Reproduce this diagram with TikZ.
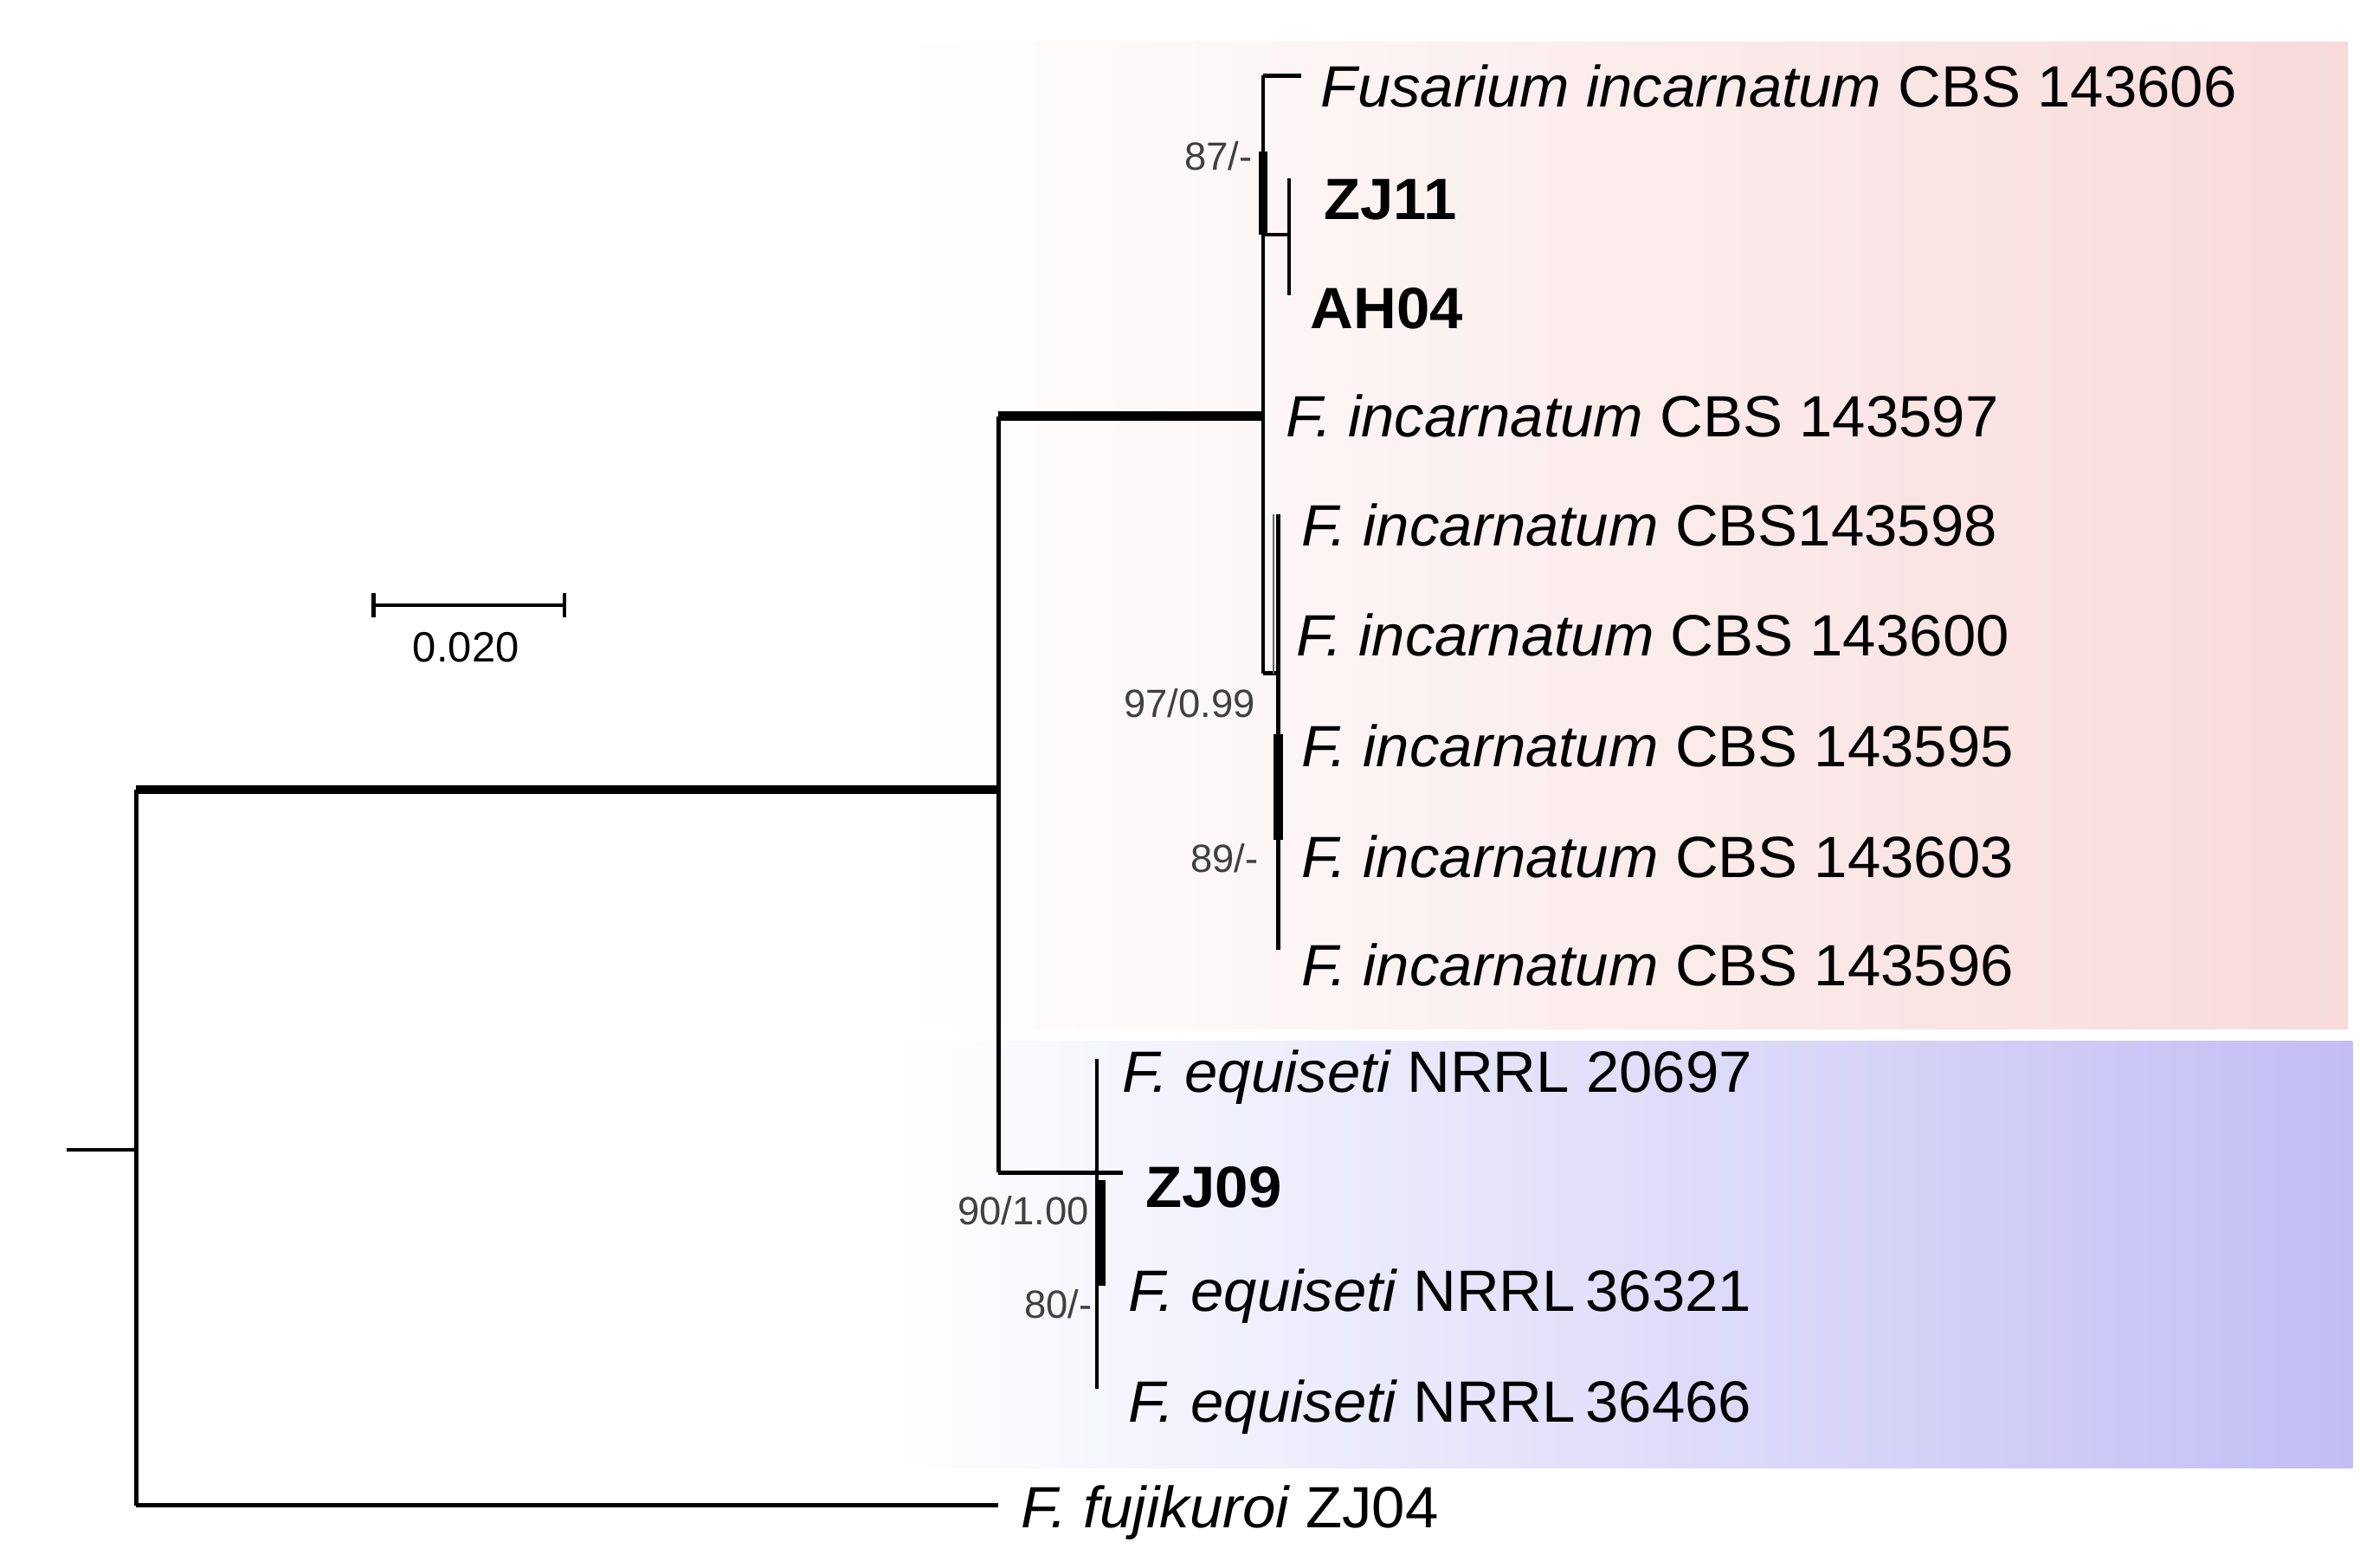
\documentclass[tikz,border=0pt]{standalone}
\usepackage{fontspec}
\setmainfont{Liberation Sans}
\definecolor{pk}{HTML}{F8DADA}
\definecolor{bl}{HTML}{C2BEF4}
\begin{document}
\begin{tikzpicture}[x=1pt,y=-1pt,
  lf/.style={anchor=west,inner sep=0pt,font=\fontsize{38.5}{42}\selectfont,xscale=1.025},
  sup/.style={anchor=east,inner sep=0pt,font=\fontsize{26}{29}\selectfont,text=black!75},
  br/.style={line width=2.6pt},
  thick br/.style={line width=6pt}]
\useasboundingbox (0,0) rectangle (1560,1036);
\shade[left color=white,right color=pk] (595,28) rectangle (1552,680);
\shade[left color=white,right color=bl] (590,688) rectangle (1555,970);
% scale bar
\coordinate (s1) at (247,400); \coordinate (s2) at (373,400);
\draw[br] (s1) -- (s2);
\draw[br] (247,392) -- (247,408); \draw[br] (373,392) -- (373,408);
\node[inner sep=0pt,font=\fontsize{28}{30}\selectfont] (sl) at (308,428) {0.020};
% nodes
\coordinate (r0) at (44,760);
\coordinate (r) at (90,760);
\coordinate (rt) at (90,522); \coordinate (rb) at (90,995);
\coordinate (a) at (660,522); \coordinate (at) at (660,275); \coordinate (ab) at (660,775);
\coordinate (i) at (835,275); \coordinate (it) at (835,50); \coordinate (ib) at (835,445);
\coordinate (e) at (725,775); \coordinate (et) at (725,700); \coordinate (eb) at (725,918);
\draw[br] (r0) -- (r);
\draw[br] (rt) -- (rb);
\draw[thick br] (rt) -- (a);
\draw[br] (at) -- (ab);
\draw[thick br] (at) -- (i);
\draw[br] (it) -- (ib);
\draw[line width=6pt] (835,100) -- (835,155);
% ZJ11/AH04
\draw[br] (835,155) -- (852,155);
\draw[br] (852,118) -- (852,195);
% second subclade
\draw[br] (835,445) -- (845,445);
\draw[line width=1pt,black!60] (842,340) -- (842,445);
\draw[br] (845,340) -- (845,628);
\draw[line width=6pt] (845,485) -- (845,555);
% equiseti
\draw[br] (ab) -- (e);
\draw[br] (et) -- (eb);
\draw[line width=6pt] (728,780) -- (728,850);
% leaves
\node[lf] (l1) at (873,57) {\itshape Fusarium incarnatum\upshape\ CBS 143606};
\draw[br] (it) -- (860,50);
\node[lf] (l2) at (875,132) {\bfseries ZJ11};
\node[lf] (l3) at (866,204) {\bfseries AH04};
\node[lf] (l4) at (850,275) {\itshape F. incarnatum\upshape\ CBS 143597};
\node[lf] (l5) at (860,347) {\itshape F. incarnatum\upshape\ CBS143598};
\node[lf] (l6) at (857,420) {\itshape F. incarnatum\upshape\ CBS 143600};
\node[lf] (l7) at (860,493) {\itshape F. incarnatum\upshape\ CBS 143595};
\node[lf] (l8) at (860,566) {\itshape F. incarnatum\upshape\ CBS 143603};
\node[lf] (l9) at (860,638) {\itshape F. incarnatum\upshape\ CBS 143596};
\node[lf] (e1) at (742,712) {\itshape F. equiseti\upshape\ NRRL 20697};
\node[lf] (e2) at (757,785) {\bfseries ZJ09};
\node[lf] (e3) at (746,857) {\itshape F. equiseti\upshape\ NRRL\,36321};
\node[lf] (e4) at (746,930) {\itshape F. equiseti\upshape\ NRRL\,36466};
\draw[br] (e) -- (742,775);
\coordinate (fj) at (660,995);
\draw[br] (rb) -- (fj);
\node[lf] (f1) at (675,1000) {\itshape F. fujikuroi\upshape\ ZJ04};
% support
\node[sup] (s87) at (828,103) {87/-};
\node[sup] (s97) at (830,465) {97/0.99};
\node[sup] (s89) at (832,567) {89/-};
\node[sup] (s90) at (720,800) {90/1.00};
\node[sup] (s80) at (722,862) {80/-};
\end{tikzpicture}
\end{document}
